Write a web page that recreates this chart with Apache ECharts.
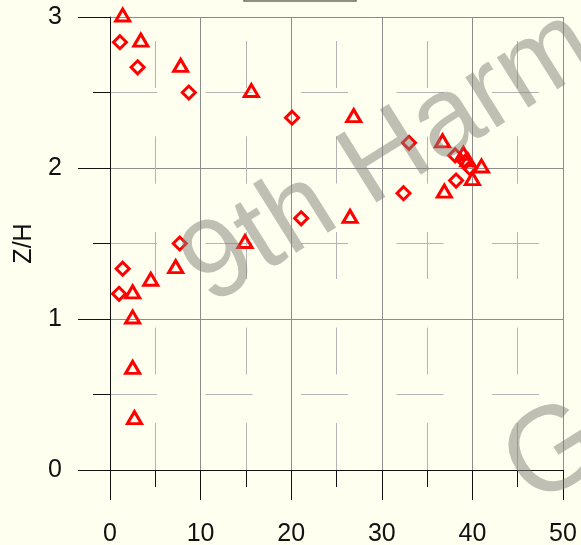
<!DOCTYPE html>
<html>
<head>
<meta charset="utf-8">
<script src="https://cdn.jsdelivr.net/npm/echarts@6/dist/echarts.min.js"></script>
<style>
  html, body { margin: 0; padding: 0; background: #fffff0; }
  #chart { width: 581px; height: 545px; }
</style>
</head>
<body>
<div id="chart"></div>
<script>
// Z/H versus x: two marker families (diamonds and triangles)
const diamondX = [1.1, 3.05, 8.7, 20.1, 33.0, 38.1, 39.2, 39.7, 38.2, 32.4, 21.1, 7.7, 1.4, 1.0];
const diamondY = [2.833, 2.667, 2.5, 2.333, 2.167, 2.083, 2.04, 2.0, 1.917, 1.833, 1.667, 1.5, 1.333, 1.167];

const triangleX = [1.4, 3.4, 7.8, 15.6, 26.9, 36.7, 39.0, 39.5, 41.0, 40.0, 36.9, 26.5, 14.9, 7.25, 4.5, 2.5, 2.5, 2.5, 2.7];
const triangleY = [3.0, 2.833, 2.667, 2.5, 2.333, 2.167, 2.083, 2.04, 2.0, 1.917, 1.833, 1.667, 1.5, 1.333, 1.25, 1.167, 1.0, 0.667, 0.333];

const xTicks = [0, 10, 20, 30, 40, 50];
const yTicks = [0, 1, 2, 3];
const yTitle = 'Z/H';
const stampLine1 = '9th Harmonic';
const stampLine2 = 'Generation';

const zip = (xs, ys) => xs.map((x, i) => [x, ys[i]]);

const FONT = '"Liberation Sans", Arial, sans-serif';
const INK = '#111';
const RED = '#ff0000';
const STAMP_ANGLE = 32 * Math.PI / 180;

const chart = echarts.init(document.getElementById('chart'), null, { renderer: 'canvas' });

const minorDash = { color: '#b4b4b4', width: 1, type: [47, 48.5] };

chart.setOption({
  backgroundColor: '#fffff0',
  animation: false,
  grid: { left: 110, top: 17, width: 453, height: 453, containLabel: false, outerBoundsMode: 'none' },
  xAxis: {
    type: 'value',
    min: xTicks[0], max: xTicks[xTicks.length - 1], interval: 10,
    axisLine: { show: true, onZero: false, lineStyle: { color: INK, width: 1 } },
    axisTick: { show: true, inside: false, length: 30, lineStyle: { color: INK, width: 1 } },
    minorTick: { show: true, splitNumber: 2, length: 17, lineStyle: { color: INK, width: 1 } },
    splitLine: { show: true, lineStyle: { color: '#8c8c8c', width: 1 } },
    minorSplitLine: { show: true, lineStyle: Object.assign({}, minorDash, { dashOffset: 71.5 }) },
    axisLabel: { show: true, margin: 52, color: INK, fontFamily: FONT, fontSize: 25,
      formatter: v => (xTicks.indexOf(v) >= 0 ? String(v) : '') }
  },
  yAxis: {
    type: 'value',
    min: yTicks[0], max: yTicks[yTicks.length - 1], interval: 1,
    name: yTitle, nameLocation: 'middle', nameRotate: 90, nameGap: 73,
    nameTextStyle: { color: INK, fontFamily: FONT, fontSize: 25 },
    axisLine: { show: true, onZero: false, lineStyle: { color: INK, width: 1 } },
    axisTick: { show: true, inside: false, length: 32, lineStyle: { color: INK, width: 1 } },
    minorTick: { show: true, splitNumber: 2, length: 17, lineStyle: { color: INK, width: 1 } },
    splitLine: { show: true, lineStyle: { color: '#8c8c8c', width: 1 } },
    minorSplitLine: { show: true, lineStyle: Object.assign({}, minorDash, { dashOffset: 0 }) },
    axisLabel: { show: true, margin: 48, color: INK, fontFamily: FONT, fontSize: 25,
      formatter: v => (yTicks.indexOf(v) >= 0 ? String(v) : '') }
  },
  series: [
    {
      type: 'scatter',
      data: zip(triangleX, triangleY),
      symbol: 'triangle',
      symbolSize: [14, 12],
      symbolOffset: [0, -2],
      itemStyle: { color: 'rgba(0,0,0,0)', borderColor: RED, borderWidth: 3, opacity: 1 },
      z: 3
    },
    {
      type: 'scatter',
      data: zip(diamondX, diamondY),
      symbol: 'diamond',
      symbolSize: [13, 13],
      itemStyle: { color: 'rgba(0,0,0,0)', borderColor: RED, borderWidth: 3, opacity: 1 },
      z: 4
    }
  ],
  graphic: [
    {
      // legend frame partly above the canvas edge
      type: 'rect', z: 10,
      shape: { x: 244, y: -20, width: 112, height: 21 },
      style: { fill: '#fffff0', stroke: '#6b6b5e', lineWidth: 1.5 }
    },
    {
      type: 'text', z: 20, x: 194, y: 280, rotation: STAMP_ANGLE,
      style: { text: stampLine1, fontFamily: FONT, fontSize: 112,
        fill: 'rgba(128,128,120,0.5)', align: 'left', verticalAlign: 'middle' }
    },
    {
      type: 'text', z: 20, x: 516, y: 480, rotation: STAMP_ANGLE,
      style: { text: stampLine2, fontFamily: FONT, fontSize: 120,
        fill: 'rgba(128,128,120,0.5)', align: 'left', verticalAlign: 'middle' }
    }
  ]
});
</script>
</body>
</html>
